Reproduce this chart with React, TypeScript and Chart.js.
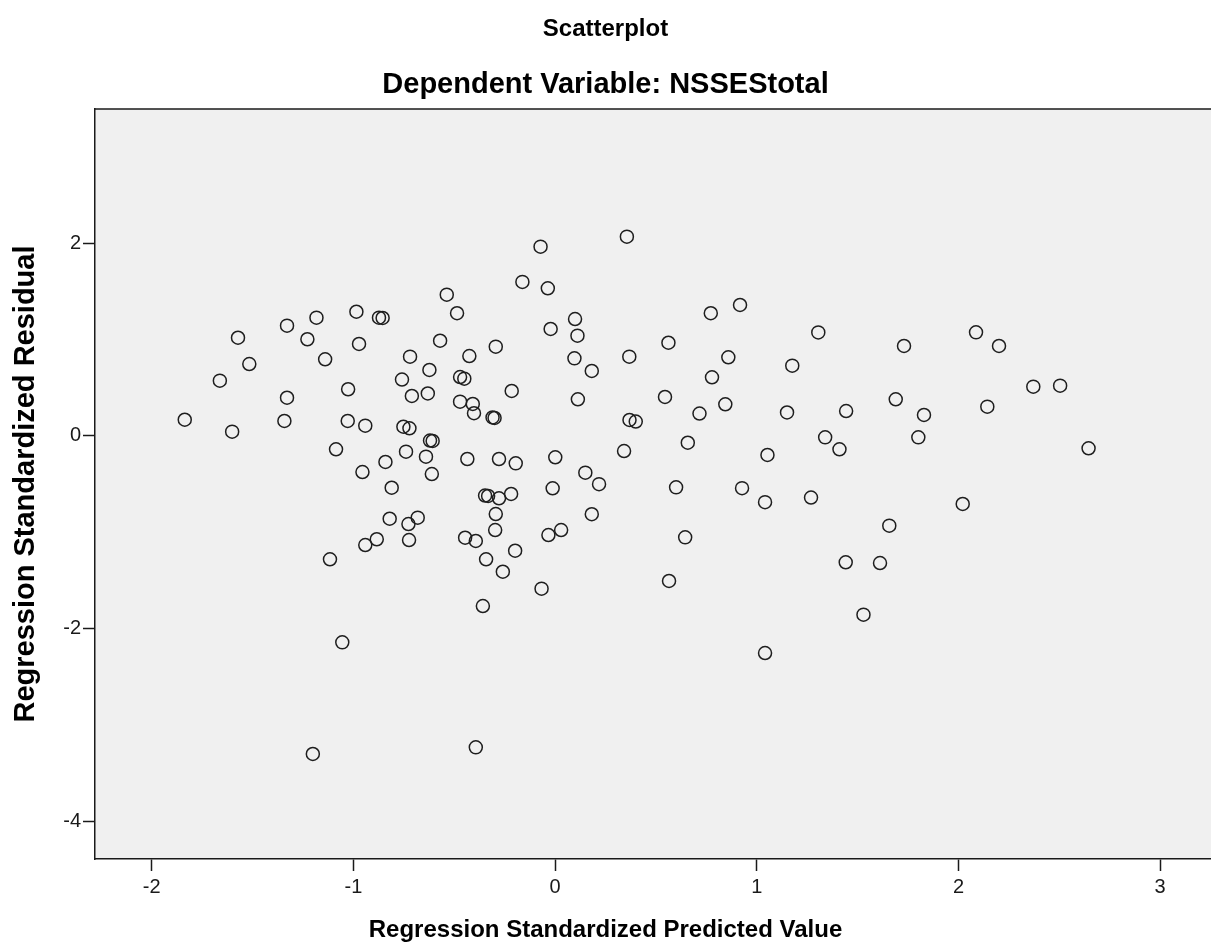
import React, { useEffect, useRef } from "react";
import { Chart, registerables } from "chart.js";

Chart.register(...registerables);

const chartTitle = "Scatterplot";
const chartSubtitle = "Dependent Variable: NSSEStotal";
const xAxisTitle = "Regression Standardized Predicted Value";
const yAxisTitle = "Regression Standardized Residual";

const xTickValues = [-2, -1, 0, 1, 2, 3];
const yTickValues = [-4, -2, 0, 2];
const xRange = [-2.281, 3.252];
const yRange = [-4.394, 3.391];

const predictedValues = [
  -1.836, -1.601, -1.662, -1.572, -1.516, -1.342, -1.329, -1.329, -1.228, -1.183,
  -1.14, -1.086, -1.116, -1.055, -1.026, -1.028, -0.985, -0.972, -0.955, -0.941,
  -0.941, -0.884, -0.873, -0.855, -0.841, -0.82, -0.81, -1.201, -0.759, -0.719,
  -0.71, -0.752, -0.722, -0.739, -0.681, -0.727, -0.724, -0.623, -0.631, -0.57,
  -0.537, -0.486, -0.62, -0.607, -0.64, -0.611, -0.425, -0.471, -0.45, -0.471,
  -0.408, -0.402, -0.31, -0.3, -0.294, -0.215, -0.435, -0.278, -0.195, -0.347,
  -0.332, -0.278, -0.218, -0.294, -0.297, -0.446, -0.393, -0.198, -0.342, -0.259,
  -0.067, -0.358, -0.393, -0.072, -0.162, -0.036, -0.022, 0.001, -0.012, -0.033,
  0.03, 0.099, 0.111, 0.096, 0.182, 0.113, 0.15, 0.218, 0.182, 0.356,
  0.368, 0.369, 0.4, 0.342, 0.562, 0.545, 0.716, 0.658, 0.6, 0.645,
  0.565, 0.772, 0.917, 0.859, 0.778, 0.844, 0.927, 1.053, 1.041, 1.041,
  1.176, 1.15, 1.269, 1.305, 1.443, 1.339, 1.41, 1.441, 1.529, 1.611,
  1.657, 1.73, 1.689, 1.829, 1.801, 2.021, 2.087, 2.201, 2.143, 2.371,
  2.504, 2.645,
];

const residualValues = [
  0.166, 0.042, 0.571, 1.017, 0.744, 0.153, 0.394, 1.142, 1.001, 1.225,
  0.793, -0.141, -1.283, -2.145, 0.482, 0.153, 1.287, 0.952, -0.377, 0.104,
  -1.135, -1.075, 1.225, 1.222, -0.273, -0.862, -0.54, -3.304, 0.583, 0.82,
  0.412, 0.093, 0.077, -0.166, -0.851, -0.917, -1.083, 0.682, 0.438, 0.986,
  1.464, 1.271, -0.05, -0.055, -0.218, -0.398, 0.827, 0.609, 0.592, 0.353,
  0.329, 0.233, 0.189, 0.184, 0.924, 0.464, -0.242, -0.242, -0.287, -0.621,
  -0.626, -0.65, -0.605, -0.813, -0.979, -1.059, -1.093, -1.194, -1.283, -1.412,
  -1.588, -1.768, -3.235, 1.962, 1.596, 1.53, 1.108, -0.224, -0.546, -1.031,
  -0.979, 1.211, 1.038, 0.803, 0.672, 0.378, -0.384, -0.503, -0.815, 2.066,
  0.82, 0.163, 0.147, -0.159, 0.965, 0.402, 0.23, -0.073, -0.536, -1.055,
  -1.508, 1.271, 1.357, 0.814, 0.606, 0.326, -0.545, -0.2, -0.69, -2.256,
  0.727, 0.241, -0.642, 1.072, 0.256, -0.017, -0.141, -1.314, -1.858, -1.322,
  -0.934, 0.931, 0.378, 0.215, -0.017, -0.709, 1.073, 0.931, 0.301, 0.509,
  0.519, -0.131,
];

const FONT = "'Liberation Sans', Arial, Helvetica, sans-serif";

const plotDecor = {
  id: "plotDecor",
  beforeDraw(chart: any) {
    const { ctx, chartArea } = chart;
    ctx.save();
    ctx.fillStyle = "#f0f0f0";
    ctx.fillRect(chartArea.left, chartArea.top, chartArea.right - chartArea.left, chartArea.bottom - chartArea.top);
    ctx.restore();
  },
  afterDraw(chart: any) {
    const { ctx, chartArea, width } = chart;
    ctx.save();
    ctx.strokeStyle = "#1a1a1a";
    ctx.lineWidth = 1.5;
    ctx.beginPath();
    ctx.moveTo(chartArea.left, chartArea.top);
    ctx.lineTo(chartArea.right, chartArea.top);
    ctx.stroke();
    // x axis title, centred on the whole figure as in the source
    ctx.fillStyle = "#000";
    ctx.font = `bold 24px ${FONT}`;
    ctx.textAlign = "center";
    ctx.textBaseline = "middle";
    ctx.fillText(xAxisTitle, width / 2, 930);
    ctx.restore();
  },
};

export default function App() {
  const canvasRef = useRef<HTMLCanvasElement | null>(null);

  useEffect(() => {
    const canvas = canvasRef.current;
    if (!canvas) return;
    const points = predictedValues.map((x, i) => ({ x, y: residualValues[i] }));
    const chart = new Chart(canvas, {
      type: "scatter",
      data: {
        datasets: [
          {
            data: points,
            pointStyle: "circle",
            pointRadius: 6.5,
            pointHoverRadius: 6.5,
            pointBorderWidth: 1.5,
            pointBorderColor: "#1e1e1e",
            pointBackgroundColor: "rgba(0,0,0,0)",
          },
        ],
      },
      options: {
        responsive: false,
        animation: false,
        devicePixelRatio: 1,
        layout: { autoPadding: false, padding: { top: 0, left: 0, right: 0, bottom: 0 } },
        plugins: {
          legend: { display: false },
          tooltip: { enabled: false },
          title: {
            display: true,
            text: chartTitle,
            color: "#000",
            font: { family: FONT, size: 24, weight: "bold", lineHeight: 1.2 },
            padding: { top: 14.6, bottom: 0 },
          },
          subtitle: {
            display: true,
            text: chartSubtitle,
            color: "#000",
            font: { family: FONT, size: 29, weight: "bold", lineHeight: 1.2 },
            padding: { top: 23.7, bottom: 7.1 },
          },
        },
        scales: {
          x: {
            type: "linear",
            position: "bottom",
            min: xRange[0],
            max: xRange[1],
            afterBuildTicks: (scale: any) => {
              scale.ticks = xTickValues.map((v) => ({ value: v }));
            },
            afterFit: (scale: any) => {
              scale.height = 93;
            },
            grid: {
              drawOnChartArea: false,
              drawTicks: true,
              tickLength: 12,
              tickWidth: 1.5,
              tickColor: "#1a1a1a",
            },
            border: { display: true, color: "#1a1a1a", width: 1.5 },
            ticks: {
              color: "#1a1a1a",
              font: { family: FONT, size: 20 },
              padding: 4,
              maxRotation: 0,
              callback: (v: any) => String(v),
            },
            title: { display: false, text: xAxisTitle },
          },
          y: {
            type: "linear",
            position: "left",
            min: yRange[0],
            max: yRange[1],
            afterBuildTicks: (scale: any) => {
              scale.ticks = yTickValues.map((v) => ({ value: v }));
            },
            afterFit: (scale: any) => {
              scale.width = 95;
            },
            grid: {
              drawOnChartArea: false,
              drawTicks: true,
              tickLength: 12,
              tickWidth: 1.5,
              tickColor: "#1a1a1a",
            },
            border: { display: true, color: "#1a1a1a", width: 1.5 },
            ticks: {
              color: "#1a1a1a",
              font: { family: FONT, size: 20 },
              padding: 2,
              callback: (v: any) => String(v),
            },
            title: {
              display: true,
              text: yAxisTitle,
              color: "#000",
              font: { family: FONT, size: 29, weight: "bold", lineHeight: 1.2 },
              padding: { top: 9, bottom: 0 },
            },
          },
        },
      },
      plugins: [plotDecor],
    });
    return () => chart.destroy();
  }, []);

  return (
    <div style={{ position: "absolute", left: 0, top: 0, width: 1211, height: 952, background: "#fff" }}>
      <canvas ref={canvasRef} width={1211} height={952} style={{ display: "block", width: 1211, height: 952 }} />
    </div>
  );
}
